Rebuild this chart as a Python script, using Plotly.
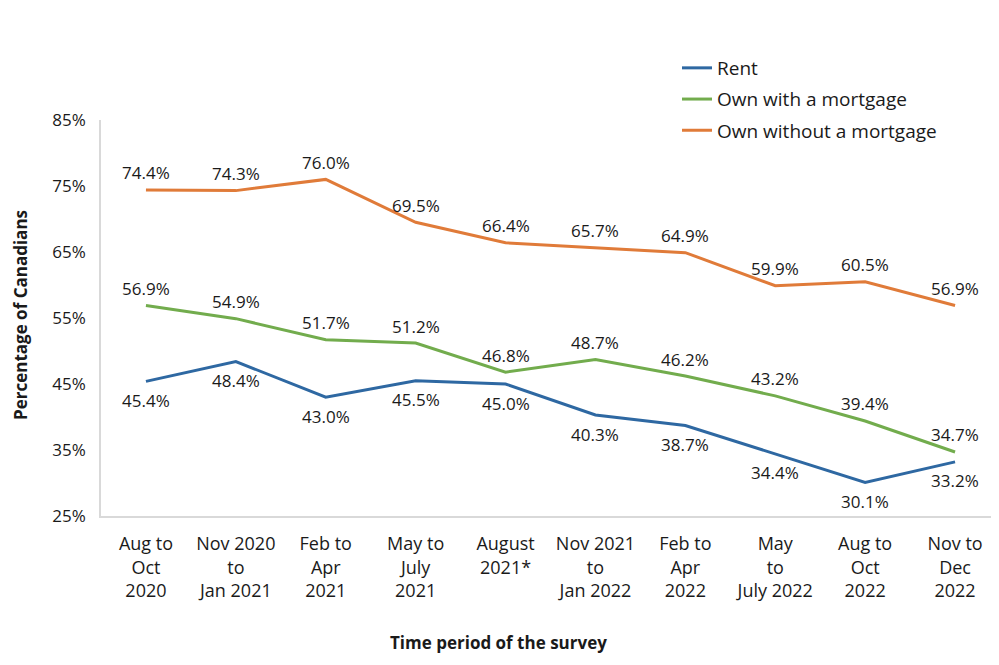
import plotly.graph_objects as go

categories = ["Aug to<br>Oct<br>2020", "Nov 2020<br>to<br>Jan 2021", "Feb to<br>Apr<br>2021",
              "May to<br>July<br>2021", "August<br>2021*", "Nov 2021<br>to<br>Jan 2022",
              "Feb to<br>Apr<br>2022", "May<br>to<br>July 2022", "Aug to<br>Oct<br>2022",
              "Nov to<br>Dec<br>2022"]
rent = [45.4, 48.4, 43.0, 45.5, 45.0, 40.3, 38.7, 34.4, 30.1, 33.2]
own_mortgage = [56.9, 54.9, 51.7, 51.2, 46.8, 48.7, 46.2, 43.2, 39.4, 34.7]
own_no_mortgage = [74.4, 74.3, 76.0, 69.5, 66.4, 65.7, 64.9, 59.9, 60.5, 56.9]
y_ticks = [25, 35, 45, 55, 65, 75, 85]

FONT = "Open Sans"
TXT = "#1a1a1a"
x = list(range(len(categories)))

# page body has an 8px default margin; plot area target (screen px): 101..1000 x 120..516
W, H = 999, 665
ML, MR, MT, MB = 93, 7, 112, 157
pw, ph = W - ML - MR, H - MT - MB


def px_x(rx):
    return (rx - 101) / pw


def px_y(ry):
    return (516 - ry) / ph


series = [
    ("Rent", rent, "#2E68A2", -19),
    ("Own with a mortgage", own_mortgage, "#72AC4D", 17),
    ("Own without a mortgage", own_no_mortgage, "#E07B39", 17),
]

fig = go.Figure()
annotations = []
for name, vals, color, shift in series:
    fig.add_trace(go.Scatter(x=x, y=vals, name=name, mode="lines",
                             legendgroup=name,
                             line=dict(color=color, width=3)))
    for xi, v in zip(x, vals):
        annotations.append(dict(x=xi, y=v, xref="x", yref="y", text=f"{v:.1f}%",
                                showarrow=False, yshift=shift,
                                xanchor="center", yanchor="middle",
                                font=dict(size=17, family=FONT, color=TXT)))

annotations.append(dict(x=px_x(498), y=px_y(642), xref="paper", yref="paper",
                        text="<b>Time period of the survey</b>", showarrow=False,
                        xanchor="center", yanchor="middle",
                        font=dict(size=17, family=FONT, color=TXT)))
annotations.append(dict(x=px_x(20), y=px_y(315), xref="paper", yref="paper",
                        text="<b>Percentage of Canadians</b>", showarrow=False,
                        xanchor="center", yanchor="middle", textangle=-90,
                        font=dict(size=17, family=FONT, color=TXT)))

fig.update_layout(
    width=W, height=H,
    margin=dict(l=ML, r=MR, t=MT, b=MB),
    paper_bgcolor="white", plot_bgcolor="white",
    font=dict(family=FONT, size=17, color=TXT),
    showlegend=True,
    legend=dict(x=px_x(677), y=px_y(49), xanchor="left", yanchor="top",
                font=dict(size=19, family=FONT, color=TXT), bgcolor="rgba(0,0,0,0)",
                tracegroupgap=3.5, itemwidth=30),
    annotations=annotations,
    xaxis=dict(tickmode="array", tickvals=x, ticktext=categories,
               range=[-0.5, 9.5], showgrid=False, zeroline=False,
               showline=True, linecolor="#D9D9D9", linewidth=1.5,
               ticks="", automargin=False, ticklabelstandoff=11,
               tickfont=dict(size=18, family=FONT, color=TXT)),
    yaxis=dict(range=[25, 85], tickmode="array", tickvals=y_ticks,
               ticktext=[f"{t}%" for t in y_ticks],
               showgrid=False, zeroline=False, showline=True,
               linecolor="#D9D9D9", linewidth=1.5, ticks="", automargin=False,
               ticklabelstandoff=10,
               tickfont=dict(size=17, family=FONT, color=TXT)),
)

fig.write_html("out.html")
